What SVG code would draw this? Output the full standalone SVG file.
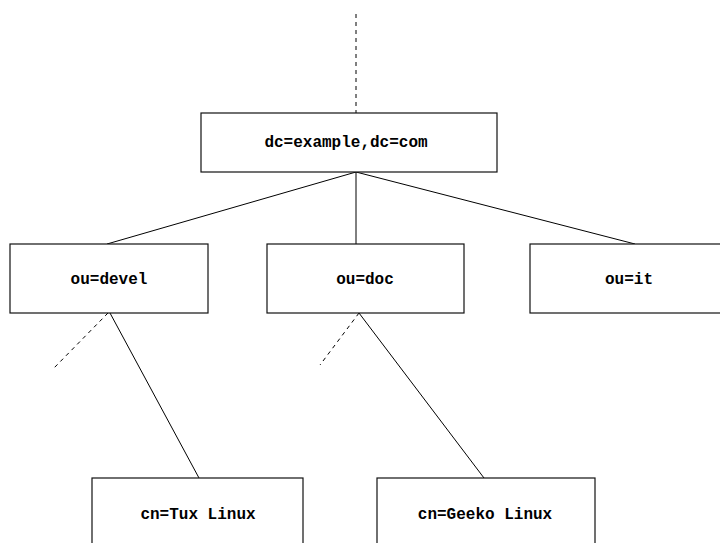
<svg xmlns="http://www.w3.org/2000/svg" width="720" height="543" viewBox="0 0 720 543">
<style>
.box{fill:#fff;stroke:#111;stroke-width:1.2}
.lbl{font-family:"Liberation Mono","Courier New",monospace;font-weight:bold;font-size:16px;fill:#000;text-anchor:middle}
.ln{stroke:#000;stroke-width:1;fill:none}
.dash{stroke:#000;stroke-width:1;fill:none;stroke-dasharray:4 4}
</style>
<rect width="720" height="543" fill="#fff"/>
<g id="connectors">
<line class="dash" x1="356" y1="14" x2="356" y2="113"/>
<line class="ln" x1="356" y1="172" x2="107" y2="244"/>
<line class="ln" x1="356" y1="172" x2="356" y2="244"/>
<line class="ln" x1="356" y1="172" x2="635" y2="244"/>
<line class="dash" x1="108" y1="313" x2="53" y2="369"/>
<line class="ln" x1="110" y1="313" x2="199" y2="478"/>
<line class="dash" x1="359" y1="313" x2="320" y2="365"/>
<line class="ln" x1="359" y1="313" x2="484" y2="478"/>
</g>
<g id="root">
<rect class="box" x="201" y="113" width="296" height="59"/>
<text class="lbl" x="346" y="147">dc=example,dc=com</text>
</g>
<g id="devel">
<rect class="box" x="10" y="244" width="198" height="69"/>
<text class="lbl" x="109" y="284">ou=devel</text>
</g>
<g id="doc">
<rect class="box" x="267" y="244" width="197" height="69"/>
<text class="lbl" x="365" y="284">ou=doc</text>
</g>
<g id="it">
<rect class="box" x="530" y="244" width="198" height="69"/>
<text class="lbl" x="629" y="284">ou=it</text>
</g>
<g id="tux">
<rect class="box" x="92" y="478" width="211" height="80"/>
<text class="lbl" x="198" y="519">cn=Tux Linux</text>
</g>
<g id="geeko">
<rect class="box" x="377" y="478" width="218" height="80"/>
<text class="lbl" x="485" y="519">cn=Geeko Linux</text>
</g>
</svg>
